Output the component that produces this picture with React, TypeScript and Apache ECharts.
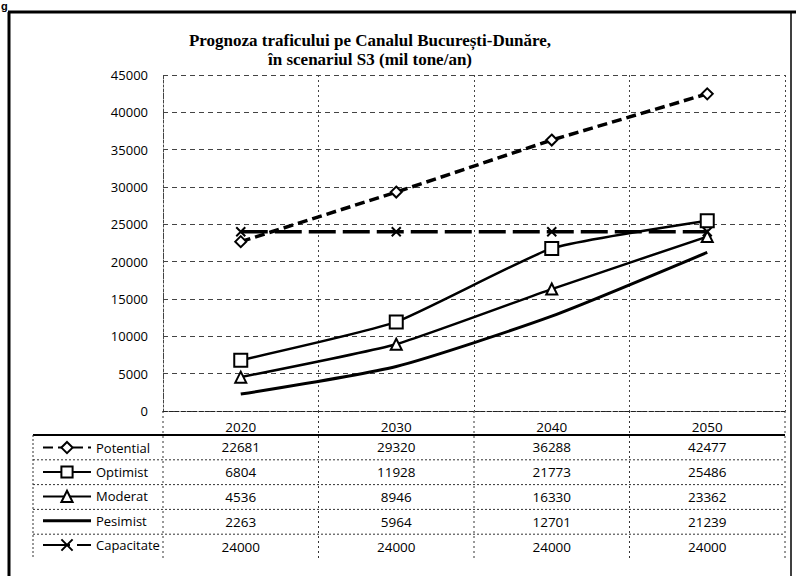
import React, { useEffect, useRef } from "react";
import * as echarts from "echarts";

const categories = ["2020", "2030", "2040", "2050"];
const seriesNames = ["Potential", "Optimist", "Moderat", "Pesimist", "Capacitate"];
const potential = [22681, 29320, 36288, 42477];
const optimist = [6804, 11928, 21773, 25486];
const moderat = [4536, 8946, 16330, 23362];
const pesimist = [2263, 5964, 12701, 21239];
const capacitate = [24000, 24000, 24000, 24000];
const yTicks = { min: 0, max: 45000, interval: 5000 };
const titleLines = ["Prognoza traficului pe Canalul București-Dunăre,", "în scenariul S3 (mil tone/an)"];

const FONT = "Open Sans";
const GRID = { left: 163, right: 11, top: 75, bottom: 165 };
const TABLE = { left: 33, right: 785, headerLine: 435, rowH: 24.8, rows: 5 };

export default function App() {
  const ref = useRef<HTMLDivElement>(null);
  useEffect(() => {
    if (!ref.current) return;
    const chart = echarts.init(ref.current, null, { renderer: "svg", width: 796, height: 576 });
    const values = [potential, optimist, moderat, pesimist, capacitate];
    const styles: any[] = [
      { line: { width: 3.5, type: [10, 5] }, symbol: "diamond", size: 11, smooth: false },
      { line: { width: 2.5, type: "solid" }, symbol: "rect", size: 13, smooth: 0.15 },
      { line: { width: 2.5, type: "solid" }, symbol: "triangle", size: 11, smooth: 0.15 },
      { line: { width: 3, type: "solid" }, symbol: "none", size: 0, smooth: 0.2 },
      { line: { width: 3.5, type: [27, 7] }, symbol: "path://M0,0L10,10M10,0L0,10", size: 9, smooth: false },
    ];
    const series = seriesNames.map((name, i) => ({
      name,
      type: "line",
      data: values[i],
      smooth: styles[i].smooth,
      symbol: styles[i].symbol,
      symbolSize: styles[i].size,
      showSymbol: styles[i].symbol !== "none",
      lineStyle: { color: "#000", width: styles[i].line.width, type: styles[i].line.type },
      itemStyle: { color: "#fff", borderColor: "#000", borderWidth: 2 },
      z: 3,
    }));
    const legendData = seriesNames.map((name, i) =>
      styles[i].symbol === "none"
        ? { name, icon: "path://M0,0H50V3H0Z", itemStyle: { color: "#000", borderWidth: 0 } }
        : { name }
    );
    const option: any = {
      animation: false,
      backgroundColor: "#fff",
      grid: { ...GRID, containLabel: false },
      legend: {
        orient: "vertical",
        left: 37,
        top: 436,
        itemWidth: 48,
        itemHeight: 14,
        itemGap: 11.2,
        data: legendData,
        textStyle: { fontFamily: FONT, fontSize: 13, color: "#000" },
        selectedMode: false,
      },
      xAxis: {
        type: "category",
        data: categories,
        boundaryGap: true,
        axisLine: { show: true, lineStyle: { color: "#222", type: [4, 2], width: 1 } },
        axisTick: { show: false },
        axisLabel: { fontFamily: FONT, fontSize: 13.5, color: "#000", margin: 9 },
        splitLine: { show: true, lineStyle: { color: "#444", type: [2, 3], width: 1 } },
      },
      yAxis: {
        type: "value",
        ...yTicks,
        axisLine: { show: true, lineStyle: { color: "#444", type: [2, 2], width: 1 } },
        axisTick: { show: false },
        axisLabel: { fontFamily: FONT, fontSize: 13, color: "#000", margin: 15, formatter: (v: number) => String(v) },
        splitLine: { show: true, lineStyle: { color: "#444", type: [5, 4], width: 1 } },
      },
      series,
    };
    chart.setOption(option);

    const centers = categories.map((c) => chart.convertToPixel({ xAxisIndex: 0 }, c) as number);
    const band = centers.length > 1 ? centers[1] - centers[0] : 150;
    const boundaries = centers.map((c) => c - band / 2).concat([centers[centers.length - 1] + band / 2]);
    const graphics: any[] = [];
    // outer frame
    graphics.push({ type: "line", shape: { x1: 9, y1: 12, x2: 9, y2: 580 }, style: { stroke: "#000", lineWidth: 3 } });
    graphics.push({ type: "line", shape: { x1: 8, y1: 12, x2: 796, y2: 12 }, style: { stroke: "#000", lineWidth: 3 } });
    graphics.push({ type: "line", shape: { x1: 791, y1: 12, x2: 791, y2: 580 }, style: { stroke: "#000", lineWidth: 1.5 } });
    graphics.push({ type: "text", x: 1, y: 0, style: { text: "g", font: "bold 11px Liberation Sans", fill: "#000" } });
    // title
    titleLines.forEach((t, i) => {
      graphics.push({
        type: "text",
        x: 370,
        y: 40 + i * 19,
        style: { text: t, font: "bold 17px 'Liberation Serif'", fill: "#000", align: "center", verticalAlign: "middle" },
      });
    });
    // table lines
    const top = TABLE.headerLine;
    const bottom = top + TABLE.rowH * TABLE.rows;
    graphics.push({ type: "line", shape: { x1: TABLE.left, y1: top, x2: TABLE.right, y2: top }, style: { stroke: "#000", lineWidth: 2 } });
    for (let r = 1; r < TABLE.rows; r++) {
      const y = top + r * TABLE.rowH;
      graphics.push({ type: "line", shape: { x1: TABLE.left, y1: y, x2: TABLE.right, y2: y }, style: { stroke: "#333", lineWidth: 1, lineDash: [2, 2] } });
    }
    graphics.push({ type: "line", shape: { x1: TABLE.left, y1: top, x2: TABLE.left, y2: bottom }, style: { stroke: "#333", lineWidth: 1, lineDash: [2, 2] } });
    boundaries.forEach((bx) => {
      graphics.push({ type: "line", shape: { x1: bx, y1: 411, x2: bx, y2: bottom }, style: { stroke: "#333", lineWidth: 1, lineDash: [2, 3] } });
    });
    // table values
    values.forEach((vals, r) => {
      vals.forEach((v, c) => {
        graphics.push({
          type: "text",
          x: centers[c],
          y: top + (r + 0.5) * TABLE.rowH,
          style: { text: String(v), font: `13.5px '${FONT}'`, fill: "#000", align: "center", verticalAlign: "middle" },
        });
      });
    });
    chart.setOption({ graphic: graphics });
    return () => chart.dispose();
  }, []);
  return <div ref={ref} style={{ width: 796, height: 576, position: "absolute", left: 0, top: 0 }} />;
}
